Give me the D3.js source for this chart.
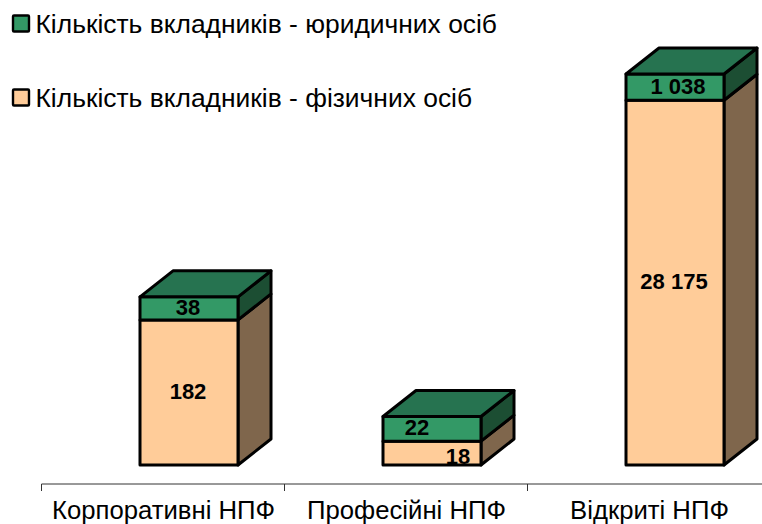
<!DOCTYPE html>
<html><head><meta charset="utf-8">
<script src="https://cdn.jsdelivr.net/npm/d3@7"></script>
<style>html,body{margin:0;padding:0;background:#fff}svg{display:block}text{font-family:"Liberation Sans",Arial,sans-serif;fill:#000}</style>
</head><body><div id="chart"></div>
<script>
const categories = ["Корпоративні НПФ", "Професійні НПФ", "Відкриті НПФ"];
const seriesNames = ["Кількість вкладників - юридичних осіб", "Кількість вкладників - фізичних осіб"];
const physicalValues = [182, 18, 28175];
const legalValues = [38, 22, 1038];
// Bar lengths as drawn in the picture (axis share, %): the source axis is not proportional to the labels.
const physicalDrawn = [37.1, 6.1, 93.3];
const legalDrawn = [5.9, 6.3, 6.7];

const W = 762, H = 524;
const fmt = v => d3.format(",")(v).replace(/,/g, " ");
const svg = d3.select("#chart").append("svg").attr("width", W).attr("height", H);

const x = d3.scaleBand().domain(categories).range([41.5, 770.5]).paddingInner(0).paddingOuter(0);
const y = d3.scaleLinear().domain([0, 100]).range([465, 74]);
const barW = 98, dx = 33, dy = -26;
const bandC = c => x(c) + x.bandwidth() / 2;
const cx = c => bandC(c) + 26;

const colors = {
  legal: {front: "#339966", top: "#267350", side: "#1c4e33"},
  phys: {front: "#FFCC99", top: "#bf9973", side: "#7f664c"}
};

// axis
const ax = svg.append("g").attr("transform", "translate(0,484)");
ax.append("line").attr("x1", x.range()[0]).attr("x2", x.range()[1]).attr("stroke", "#333").attr("stroke-width", 1);
[...categories.map(c => x(c)), x.range()[1]].forEach(t =>
  ax.append("line").attr("x1", t).attr("x2", t).attr("y1", 0).attr("y2", 7).attr("stroke", "#333").attr("stroke-width", 1));
categories.forEach(c => ax.append("text").attr("x", bandC(c) + 0.5)
  .attr("y", 34.5).attr("text-anchor", "middle").attr("font-size", 25.7).text(c));

function box(left, y0, y1, col, drawTop) {
  const g = svg.append("g").attr("stroke", "#000").attr("stroke-width", 3).attr("stroke-linejoin", "round");
  const r = left + barW;
  g.append("path").attr("fill", col.side).attr("d", d3.line()([[r, y0], [r + dx, y0 + dy], [r + dx, y1 + dy], [r, y1]]) + "Z");
  g.append("rect").attr("x", left).attr("y", y1).attr("width", barW).attr("height", y0 - y1).attr("fill", col.front);
  if (drawTop) g.append("path").attr("fill", col.top).attr("d", d3.line()([[left, y1], [left + dx, y1 + dy], [r + dx, y1 + dy], [r, y1]]) + "Z");
}

const labelShiftLegal = [-1, -15, 3], labelShiftPhys = [-1, 26, -1];
categories.forEach((c, i) => {
  const left = cx(c) - barW / 2;
  const y0 = y(0), y1 = y(physicalDrawn[i]), y2 = y(physicalDrawn[i] + legalDrawn[i]);
  box(left, y0, y1, colors.phys, false);
  box(left, y1, y2, colors.legal, true);
  const lab = (v, px, py) => svg.append("text").attr("x", px).attr("y", py).attr("text-anchor", "middle")
    .attr("font-size", 22).attr("font-weight", "bold").attr("dominant-baseline", "central").text(fmt(v));
  lab(legalValues[i], cx(c) + labelShiftLegal[i], (y1 + y2) / 2 - 1);
  const py = i === 1 ? y0 - 9 : (y0 + y1) / 2 - 1;
  lab(physicalValues[i], cx(c) + labelShiftPhys[i], py);
});

// legend
const legendY = [24, 98];
seriesNames.forEach((n, i) => {
  svg.append("rect").attr("x", 13).attr("y", legendY[i] - 8.5).attr("width", 16).attr("height", 16).attr("rx", 1)
    .attr("fill", i ? colors.phys.front : colors.legal.front).attr("stroke", "#000").attr("stroke-width", 2.4);
  svg.append("text").attr("x", 35.5).attr("y", legendY[i] + 9).attr("font-size", 26.4).text(n);
});
</script></body></html>
